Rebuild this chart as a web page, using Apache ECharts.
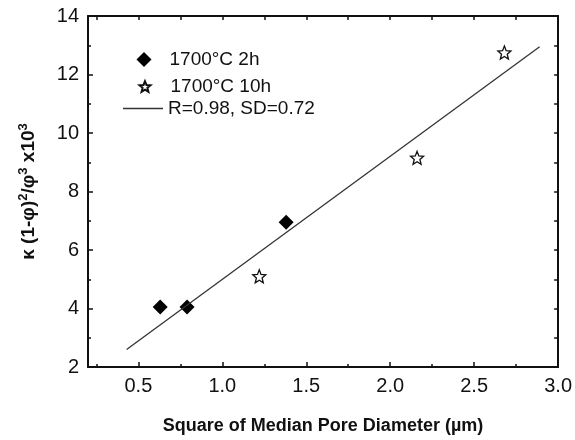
<!DOCTYPE html>
<html>
<head>
<meta charset="utf-8">
<script src="https://cdn.jsdelivr.net/npm/echarts@6/dist/echarts.min.js"></script>
<style>
  html, body { margin: 0; padding: 0; background: #fff; }
  #chart { width: 575px; height: 440px; }
</style>
</head>
<body>
<div id="chart"></div>
<script>
// values
var pts2h = [[0.63, 4.05], [0.79, 4.05], [1.38, 6.95]];
var pts10h = [[1.22, 5.1], [2.16, 9.15], [2.68, 12.75]];
var fitLine = [[0.43, 2.6], [2.89, 12.95]];
var xLabelVals = [0.5, 1.0, 1.5, 2.0, 2.5, 3.0];
var xMinorVals = [0.25, 0.75, 1.25, 1.75, 2.25, 2.75];
var xAllVals = [0.25, 0.5, 0.75, 1.0, 1.25, 1.5, 1.75, 2.0, 2.25, 2.5, 2.75];

var starPath = 'path://M50 0 L62.93 32.2 L97.55 34.55 L70.92 56.8 L79.39 90.45 L50 72 L20.61 90.45 L29.08 56.8 L2.45 34.55 L37.07 32.2 Z';
var ink = '#111';
var font = 'Liberation Sans, Arial, sans-serif';

var chart = echarts.init(document.getElementById('chart'));
chart.setOption({
    animation: false,
    backgroundColor: '#fff',
    grid: { left: 88, right: 16, top: 16, bottom: 72 },
    legend: [{
        left: 136.5, top: 50, padding: 0,
        itemWidth: 15, itemHeight: 15,
        data: ['1700°C 2h'],
        textStyle: { color: ink, fontSize: 19, fontFamily: font, padding: [0, 0, 0, 13] }
    }, {
        left: 138.5, top: 77, padding: 0,
        itemWidth: 11, itemHeight: 11,
        data: ['1700°C 10h'],
        textStyle: { color: ink, fontSize: 19, fontFamily: font, padding: [0, 0, 0, 15] }
    }, {
        left: 123, top: 99, padding: 0,
        itemWidth: 40, itemHeight: 1.4,
        data: [{ name: 'R=0.98, SD=0.72', icon: 'rect' }],
        textStyle: { color: ink, fontSize: 19, fontFamily: font }
    }],
    xAxis: [{
        type: 'value', min: 0.2, max: 3.0, position: 'bottom',
        name: 'Square of Median Pore Diameter (µm)',
        nameLocation: 'middle', nameGap: 50,
        nameTextStyle: { color: ink, fontSize: 18, fontWeight: 'bold', fontFamily: font },
        axisLine: { lineStyle: { color: ink, width: 2 } },
        axisTick: { inside: true, length: 5, customValues: xLabelVals, lineStyle: { color: ink, width: 1.5 } },
        axisLabel: { customValues: xLabelVals, color: ink, fontSize: 20, fontFamily: font, margin: 9,
            formatter: function (v) { return v.toFixed(1); } },
        splitLine: { show: false }
    }, {
        type: 'value', min: 0.2, max: 3.0, position: 'bottom',
        axisLine: { show: false },
        axisTick: { inside: true, length: 3, customValues: xMinorVals, lineStyle: { color: ink, width: 1.5 } },
        axisLabel: { show: false },
        splitLine: { show: false }
    }, {
        type: 'value', min: 0.2, max: 3.0, position: 'top',
        axisLine: { lineStyle: { color: ink, width: 2 } },
        axisTick: { inside: true, length: 4, customValues: xAllVals, lineStyle: { color: ink, width: 1.5 } },
        axisLabel: { show: false },
        splitLine: { show: false }
    }],
    yAxis: [{
        type: 'value', min: 2, max: 14, interval: 2, position: 'left',
        name: '{b|κ (1-φ)}{s|2}{b|/φ}{s|3}{b| x10}{s|3}',
        nameLocation: 'middle', nameGap: 47, nameRotate: 90,
        nameTextStyle: {
            color: ink, fontSize: 19, fontWeight: 'bold', fontFamily: font,
            rich: {
                b: { color: ink, fontSize: 19, fontWeight: 'bold', fontFamily: font, lineHeight: 24 },
                s: { color: ink, fontSize: 13, fontWeight: 'bold', fontFamily: font, lineHeight: 24, verticalAlign: 'top' }
            }
        },
        axisLine: { show: true, lineStyle: { color: ink, width: 2 } },
        axisTick: { show: true, inside: true, length: 5, lineStyle: { color: ink, width: 1.5 } },
        minorTick: { show: true, splitNumber: 2, length: 3, lineStyle: { color: ink, width: 1.5 } },
        axisLabel: { color: ink, fontSize: 20, fontFamily: font, margin: 9 },
        splitLine: { show: false }
    }, {
        type: 'value', min: 2, max: 14, interval: 1, position: 'right',
        axisLine: { show: true, lineStyle: { color: ink, width: 2 } },
        axisTick: { show: true, inside: true, length: 4, lineStyle: { color: ink, width: 1.5 } },
        axisLabel: { show: false },
        splitLine: { show: false }
    }],
    series: [{
        name: '1700°C 2h',
        type: 'scatter',
        symbol: 'diamond',
        symbolSize: 15,
        itemStyle: { color: '#000', opacity: 1 },
        data: pts2h
    }, {
        name: '1700°C 10h',
        type: 'scatter',
        symbol: starPath,
        symbolSize: 13,
        itemStyle: { color: '#fff', borderColor: '#111', borderWidth: 1.3, opacity: 1 },
        data: pts10h
    }, {
        name: 'R=0.98, SD=0.72',
        type: 'line',
        symbol: 'none',
        lineStyle: { color: '#333', width: 1.3 },
        itemStyle: { color: '#333' },
        data: fitLine
    }]
});
</script>
</body>
</html>
